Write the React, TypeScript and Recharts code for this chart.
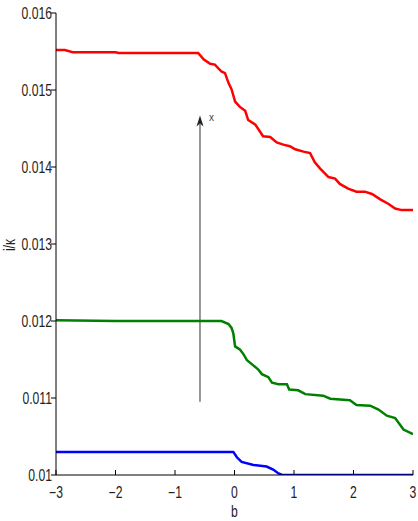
import React from "react";
import {
  LineChart,
  Line,
  XAxis,
  YAxis,
  ReferenceLine,
} from "recharts";

const xTicks = [-3, -2, -1, 0, 1, 2, 3];
const yTicks = [0.01, 0.011, 0.012, 0.013, 0.014, 0.015, 0.016];
const yTickLabels = ["0.01", "0.011", "0.012", "0.013", "0.014", "0.015", "0.016"];

const redX = [-3, -2.85, -2.72, -2.0, -1.95, -0.61, -0.52, -0.41, -0.33, -0.22, -0.16, -0.1, -0.05, 0.01, 0.09, 0.18, 0.23, 0.35, 0.48, 0.6, 0.71, 0.82, 0.93, 1.02, 1.16, 1.27, 1.35, 1.44, 1.58, 1.69, 1.77, 1.91, 2.05, 2.19, 2.31, 2.45, 2.59, 2.7, 2.81, 3.0];
const redY = [0.01552, 0.01552, 0.01549, 0.01549, 0.01548, 0.01548, 0.0154, 0.01534, 0.01533, 0.01524, 0.01522, 0.01509, 0.01501, 0.01485, 0.01478, 0.01473, 0.01461, 0.01455, 0.0144, 0.01439, 0.01432, 0.01429, 0.01427, 0.01423, 0.0142, 0.01418, 0.01406, 0.01398, 0.01387, 0.01385, 0.01378, 0.01372, 0.01368, 0.01368, 0.01365, 0.01358, 0.01352, 0.01346, 0.01344, 0.01344];

const greenX = [-3, -2.0, -0.22, -0.1, -0.05, -0.02, 0.01, 0.09, 0.15, 0.21, 0.29, 0.4, 0.46, 0.57, 0.63, 0.74, 0.88, 0.92, 1.07, 1.19, 1.49, 1.61, 1.94, 2.05, 2.28, 2.42, 2.56, 2.7, 2.84, 3.0];
const greenY = [0.01201, 0.012, 0.012, 0.01196, 0.01191, 0.01184, 0.01167, 0.01163, 0.01157, 0.01149, 0.01144, 0.01137, 0.01131, 0.01127, 0.0112, 0.01118, 0.01118, 0.01111, 0.0111, 0.01105, 0.01103, 0.01099, 0.01097, 0.01091, 0.0109, 0.01085, 0.01077, 0.01074, 0.01059, 0.01053];

const blueX = [-3, -0.02, 0.04, 0.12, 0.32, 0.54, 0.65, 0.74, 0.8, 3.0];
const blueY = [0.0103, 0.0103, 0.01023, 0.01017, 0.01013, 0.01011, 0.01007, 0.01002, 0.01, 0.01];

const arrowX = -0.58;
const arrowFrom = 0.01095;
const arrowTo = 0.01467;

const toPoints = (xs: number[], ys: number[]) => xs.map((x, i) => ({ x, y: ys[i] }));
const redData = toPoints(redX, redY);
const greenData = toPoints(greenX, greenY);
const blueData = toPoints(blueX, blueY);

const fmtX = (v: number) => (v < 0 ? "\u2212" + Math.abs(v) : String(v));
const fmtY = (v: number) => {
  const i = yTicks.findIndex((t) => Math.abs(t - v) < 1e-9);
  return i >= 0 ? yTickLabels[i] : String(v);
};

const textColor = "#222";

// condensed look (no narrow font installed), squeeze horizontally
const NarrowText = ({ x, y, anchor, rotate, children }: any) => (
  <text
    transform={`translate(${x},${y})${rotate ? ` rotate(${rotate})` : ""} scale(0.76,1)`}
    textAnchor={anchor}
    fontSize={16}
    fill={textColor}
  >
    {children}
  </text>
);

const BottomTick = (props: any) => {
  const { x, y, payload } = props;
  return (
    <g>
      <line x1={x} y1={y} x2={x} y2={y - 5} stroke="#000" />
      <NarrowText x={x} y={y + 23} anchor="middle">
        {fmtX(payload.value)}
      </NarrowText>
    </g>
  );
};

const TopTick = (props: any) => {
  const { x, y } = props;
  return <line x1={x} y1={y} x2={x} y2={y + 5} stroke="#000" />;
};

const LeftTick = (props: any) => {
  const { x, y, payload } = props;
  return (
    <g>
      <line x1={x} y1={y} x2={x - 5} y2={y} stroke="#000" />
      <NarrowText x={x - 4} y={y + 6} anchor="end">
        {fmtY(payload.value)}
      </NarrowText>
    </g>
  );
};

const RightTick = (props: any) => {
  const { x, y } = props;
  return <line x1={x} y1={y} x2={x - 5} y2={y} stroke="#000" />;
};

const YLabel = () => (
  <NarrowText x={15} y={245} anchor="middle" rotate={-90}>
    i/{"\u03BA"}
  </NarrowText>
);

const XLabel = (props: any) => {
  const vb = props.viewBox || { x: 56, width: 357 };
  return (
    <NarrowText x={vb.x + vb.width / 2} y={517} anchor="middle">
      b
    </NarrowText>
  );
};

const Arrow = (props: any) => {
  const { x1, y1, x2, y2 } = props;
  return (
    <g>
      <line x1={x1} y1={y1} x2={x2} y2={y2 + 8} stroke="#333" strokeWidth={1} />
      <path d={`M${x2},${y2} L${x2 - 3.5},${y2 + 11} L${x2},${y2 + 8} L${x2 + 3.5},${y2 + 11} Z`} fill="#222" />
      <text x={x2 + 9} y={y2 + 6} fontSize={10} fill="#444">x</text>
    </g>
  );
};

export default function App() {
  return (
    <div
      style={{
        position: "absolute",
        left: 0,
        top: 0,
        width: 418,
        height: 521,
        background: "#fff",
        fontFamily: '"Liberation Sans", Arial, sans-serif',
      }}
    >
      <LineChart width={418} height={521} margin={{ top: 13, right: 5, bottom: 0, left: 0 }}>
        <XAxis
          xAxisId="b"
          type="number"
          dataKey="x"
          domain={[-3, 3]}
          ticks={xTicks}
          allowDataOverflow
          height={46}
          tickSize={0}
          tickMargin={0}
          tickLine={false}
          axisLine={{ stroke: "#000" }}
          tick={<BottomTick />}
          label={<XLabel />}
        />
        <XAxis
          xAxisId="t"
          orientation="top"
          type="number"
          dataKey="x"
          domain={[-3, 3]}
          ticks={xTicks}
          allowDataOverflow
          height={0}
          tickSize={0}
          tickMargin={0}
          tickLine={false}
          axisLine={{ stroke: "#000" }}
          tick={<TopTick />}
        />
        <YAxis
          yAxisId="l"
          type="number"
          dataKey="y"
          domain={[0.01, 0.016]}
          ticks={yTicks}
          allowDataOverflow
          width={56}
          tickSize={0}
          tickMargin={0}
          tickLine={false}
          axisLine={{ stroke: "#000" }}
          tick={<LeftTick />}
          label={<YLabel />}
        />
        <YAxis
          yAxisId="r"
          orientation="right"
          type="number"
          dataKey="y"
          domain={[0.01, 0.016]}
          ticks={yTicks}
          allowDataOverflow
          width={0}
          tickSize={0}
          tickMargin={0}
          tickLine={false}
          axisLine={{ stroke: "#000" }}
          tick={<RightTick />}
        />
        <ReferenceLine
          xAxisId="b"
          yAxisId="l"
          segment={[
            { x: arrowX, y: arrowFrom },
            { x: arrowX, y: arrowTo },
          ]}
          stroke="#333"
          shape={(p: any) => <Arrow {...p} />}
        />
        <Line
          xAxisId="b"
          yAxisId="l"
          data={redData}
          dataKey="y"
          type="linear"
          stroke="#ff0000"
          strokeWidth={2.5}
          dot={false}
          isAnimationActive={false}
        />
        <Line
          xAxisId="b"
          yAxisId="l"
          data={greenData}
          dataKey="y"
          type="linear"
          stroke="#008000"
          strokeWidth={2.5}
          dot={false}
          isAnimationActive={false}
        />
        <Line
          xAxisId="b"
          yAxisId="l"
          data={blueData}
          dataKey="y"
          type="linear"
          stroke="#0000ff"
          strokeWidth={2.5}
          dot={false}
          isAnimationActive={false}
        />
      </LineChart>
    </div>
  );
}
